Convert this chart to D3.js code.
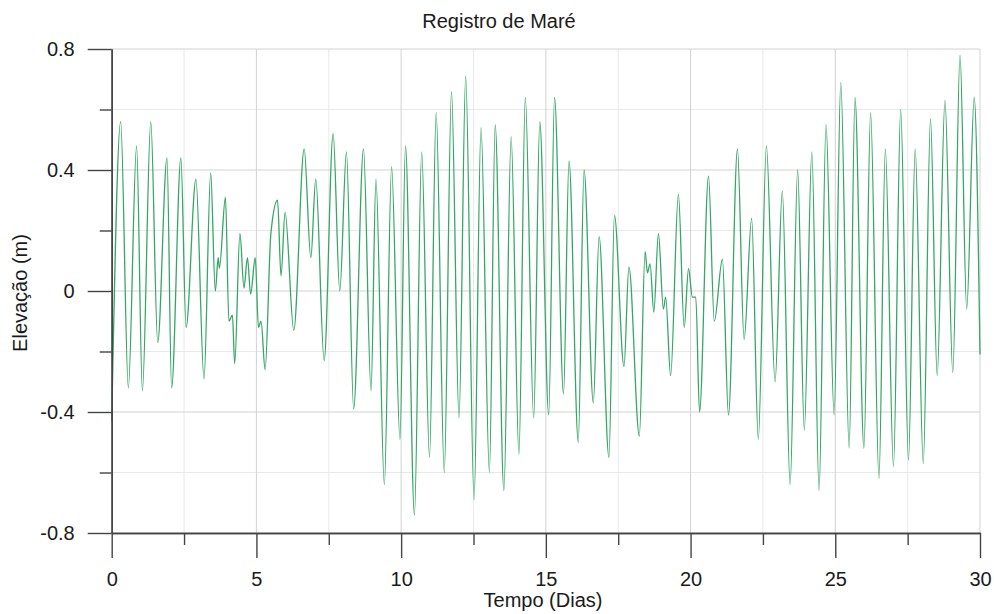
<!DOCTYPE html>
<html>
<head>
<meta charset="utf-8">
<script src="https://cdn.jsdelivr.net/npm/d3@7"></script>
<style>
  html, body { margin: 0; padding: 0; background: #ffffff; }
  svg { display: block; font-family: "Liberation Sans", Arial, sans-serif; }
</style>
</head>
<body>
<svg id="chart" width="994" height="614"></svg>
<script>
// ---- data (successive highs / lows of the tide record) ----
const title = "Registro de Maré";
const xLabel = "Tempo (Dias)";
const yLabel = "Elevação (m)";

const timeDays = [
  0.00, 0.31, 0.575, 0.86, 1.06, 1.35, 1.59, 1.91, 2.07, 2.39,
  2.57, 2.91, 3.19, 3.42, 3.58, 3.68, 3.72, 3.93, 4.05, 4.17,
  4.25, 4.43, 4.57, 4.69, 4.80, 4.96, 5.07, 5.16, 5.30, 5.50,
  5.73, 5.85, 5.99, 6.29, 6.65, 6.88, 7.05, 7.34, 7.65, 7.88,
  8.11, 8.36, 8.70, 8.96, 9.13, 9.42, 9.67, 9.96, 10.15, 10.46,
  10.71, 10.98, 11.21, 11.49, 11.74, 12.00, 12.23, 12.52, 12.76, 13.05,
  13.25, 13.55, 13.80, 14.07, 14.29, 14.58, 14.79, 15.10, 15.30, 15.61,
  15.80, 16.12, 16.32, 16.64, 16.84, 17.18, 17.37, 17.70, 17.87, 18.23,
  18.43, 18.51, 18.60, 18.73, 18.89, 19.06, 19.14, 19.31, 19.58, 19.78,
  19.93, 20.06, 20.18, 20.31, 20.62, 20.82, 21.10, 21.31, 21.62, 21.85,
  22.11, 22.34, 22.62, 22.92, 23.17, 23.44, 23.70, 23.93, 24.19, 24.44,
  24.68, 24.96, 25.19, 25.48, 25.68, 25.99, 26.22, 26.51, 26.73, 27.01,
  27.26, 27.53, 27.76, 28.04, 28.29, 28.52, 28.79, 29.06, 29.31, 29.54,
  29.80, 30.00
];
const elevation = [
  -0.43, 0.56, -0.32, 0.48, -0.33, 0.56, -0.17, 0.44, -0.32, 0.44,
  -0.12, 0.37, -0.29, 0.39, 0.00, 0.11, 0.075, 0.31, -0.10, -0.08,
  -0.24, 0.19, 0.01, 0.11, -0.01, 0.11, -0.12, -0.10, -0.26, 0.19,
  0.30, 0.05, 0.26, -0.13, 0.47, 0.11, 0.37, -0.23, 0.52, 0.00,
  0.46, -0.39, 0.47, -0.33, 0.37, -0.64, 0.41, -0.49, 0.48, -0.74,
  0.46, -0.55, 0.59, -0.60, 0.66, -0.42, 0.71, -0.69, 0.54, -0.60,
  0.55, -0.66, 0.51, -0.54, 0.64, -0.42, 0.56, -0.41, 0.64, -0.34,
  0.43, -0.50, 0.40, -0.37, 0.18, -0.55, 0.25, -0.25, 0.08, -0.48,
  0.13, 0.06, 0.09, -0.07, 0.19, -0.06, -0.02, -0.28, 0.32, -0.12,
  0.075, -0.02, -0.02, -0.40, 0.38, -0.10, 0.105, -0.41, 0.47, -0.16,
  0.24, -0.49, 0.48, -0.30, 0.33, -0.64, 0.40, -0.46, 0.46, -0.66,
  0.55, -0.41, 0.69, -0.52, 0.64, -0.52, 0.59, -0.62, 0.47, -0.58,
  0.60, -0.56, 0.47, -0.57, 0.57, -0.28, 0.63, -0.27, 0.78, -0.06,
  0.64, -0.21
];

const xMajorTicks = [0, 5, 10, 15, 20, 25, 30];
const xMinorTicks = [2.5, 7.5, 12.5, 17.5, 22.5, 27.5];
const yMajorTicks = [-0.8, -0.4, 0, 0.4, 0.8];
const yMinorTicks = [-0.6, -0.2, 0.2, 0.6];

// ---- layout ----
const svg = d3.select("#chart");
const plot = { left: 111.7, right: 980, top: 49, bottom: 533 };

const x = d3.scaleLinear().domain([0, 30]).range([plot.left, plot.right]);
const y = d3.scaleLinear().domain([-0.8, 0.8]).range([plot.bottom, plot.top]);

const textColor = "#1a1a1a";
const axisColor = "#444";

// grid
const grid = svg.append("g");
grid.selectAll("line.ymin").data(yMinorTicks).join("line")
  .attr("x1", plot.left).attr("x2", plot.right)
  .attr("y1", d => y(d)).attr("y2", d => y(d))
  .attr("stroke", "#e9e9e9").attr("stroke-width", 1);
grid.selectAll("line.xmin").data(xMinorTicks).join("line")
  .attr("y1", plot.top).attr("y2", plot.bottom)
  .attr("x1", d => x(d)).attr("x2", d => x(d))
  .attr("stroke", "#e9e9e9").attr("stroke-width", 1);
grid.selectAll("line.ymaj").data(yMajorTicks).join("line")
  .attr("x1", plot.left).attr("x2", plot.right)
  .attr("y1", d => y(d)).attr("y2", d => y(d))
  .attr("stroke", "#d2d2d2").attr("stroke-width", 1);
grid.selectAll("line.xmaj").data(xMajorTicks).join("line")
  .attr("y1", plot.top).attr("y2", plot.bottom)
  .attr("x1", d => x(d)).attr("x2", d => x(d))
  .attr("stroke", "#d2d2d2").attr("stroke-width", 1);

// data line
const pts = timeDays.map((t, i) => [t, elevation[i]]);
const line = d3.line()
  .x(d => x(d[0]))
  .y(d => y(d[1]))
  .curve(d3.curveMonotoneX);
svg.append("path")
  .datum(pts)
  .attr("d", line)
  .attr("fill", "none")
  .attr("stroke", "#35a667")
  .attr("stroke-width", 1.3);

// axes
const fmt = d => String(d);
function styleAxis(g) {
  g.selectAll("path.domain").attr("stroke", axisColor).attr("stroke-width", 1.4);
  g.selectAll(".tick line").attr("stroke", axisColor).attr("stroke-width", 1.4);
  g.selectAll(".tick text").attr("fill", textColor)
    .style("font-family", '"Liberation Sans", Arial, sans-serif')
    .style("font-size", "20px");
}

const yMinorAxis = svg.append("g").attr("transform", `translate(${plot.left},0)`)
  .call(d3.axisLeft(y).tickValues(yMinorTicks).tickSize(12).tickSizeOuter(0).tickFormat(""));
styleAxis(yMinorAxis);
const yAxis = svg.append("g").attr("transform", `translate(${plot.left},0)`)
  .call(d3.axisLeft(y).tickValues(yMajorTicks).tickSize(24).tickSizeOuter(0).tickPadding(13).tickFormat(fmt));
styleAxis(yAxis);

const xMinorAxis = svg.append("g").attr("transform", `translate(0,${plot.bottom})`)
  .call(d3.axisBottom(x).tickValues(xMinorTicks).tickSize(12).tickSizeOuter(0).tickFormat(""));
styleAxis(xMinorAxis);
const xAxis = svg.append("g").attr("transform", `translate(0,${plot.bottom})`)
  .call(d3.axisBottom(x).tickValues(xMajorTicks).tickSize(25).tickSizeOuter(0).tickPadding(14).tickFormat(fmt));
styleAxis(xAxis);

// titles
svg.append("text")
  .attr("x", 499).attr("y", 28)
  .attr("text-anchor", "middle")
  .attr("fill", textColor)
  .style("font-size", "20px")
  .text(title);

svg.append("text")
  .attr("x", 543).attr("y", 607)
  .attr("text-anchor", "middle")
  .attr("fill", textColor)
  .style("font-size", "20px")
  .text(xLabel);

svg.append("text")
  .attr("transform", "translate(26.5,293) rotate(-90)")
  .attr("text-anchor", "middle")
  .attr("fill", textColor)
  .style("font-size", "20px")
  .text(yLabel);
</script>
</body>
</html>
